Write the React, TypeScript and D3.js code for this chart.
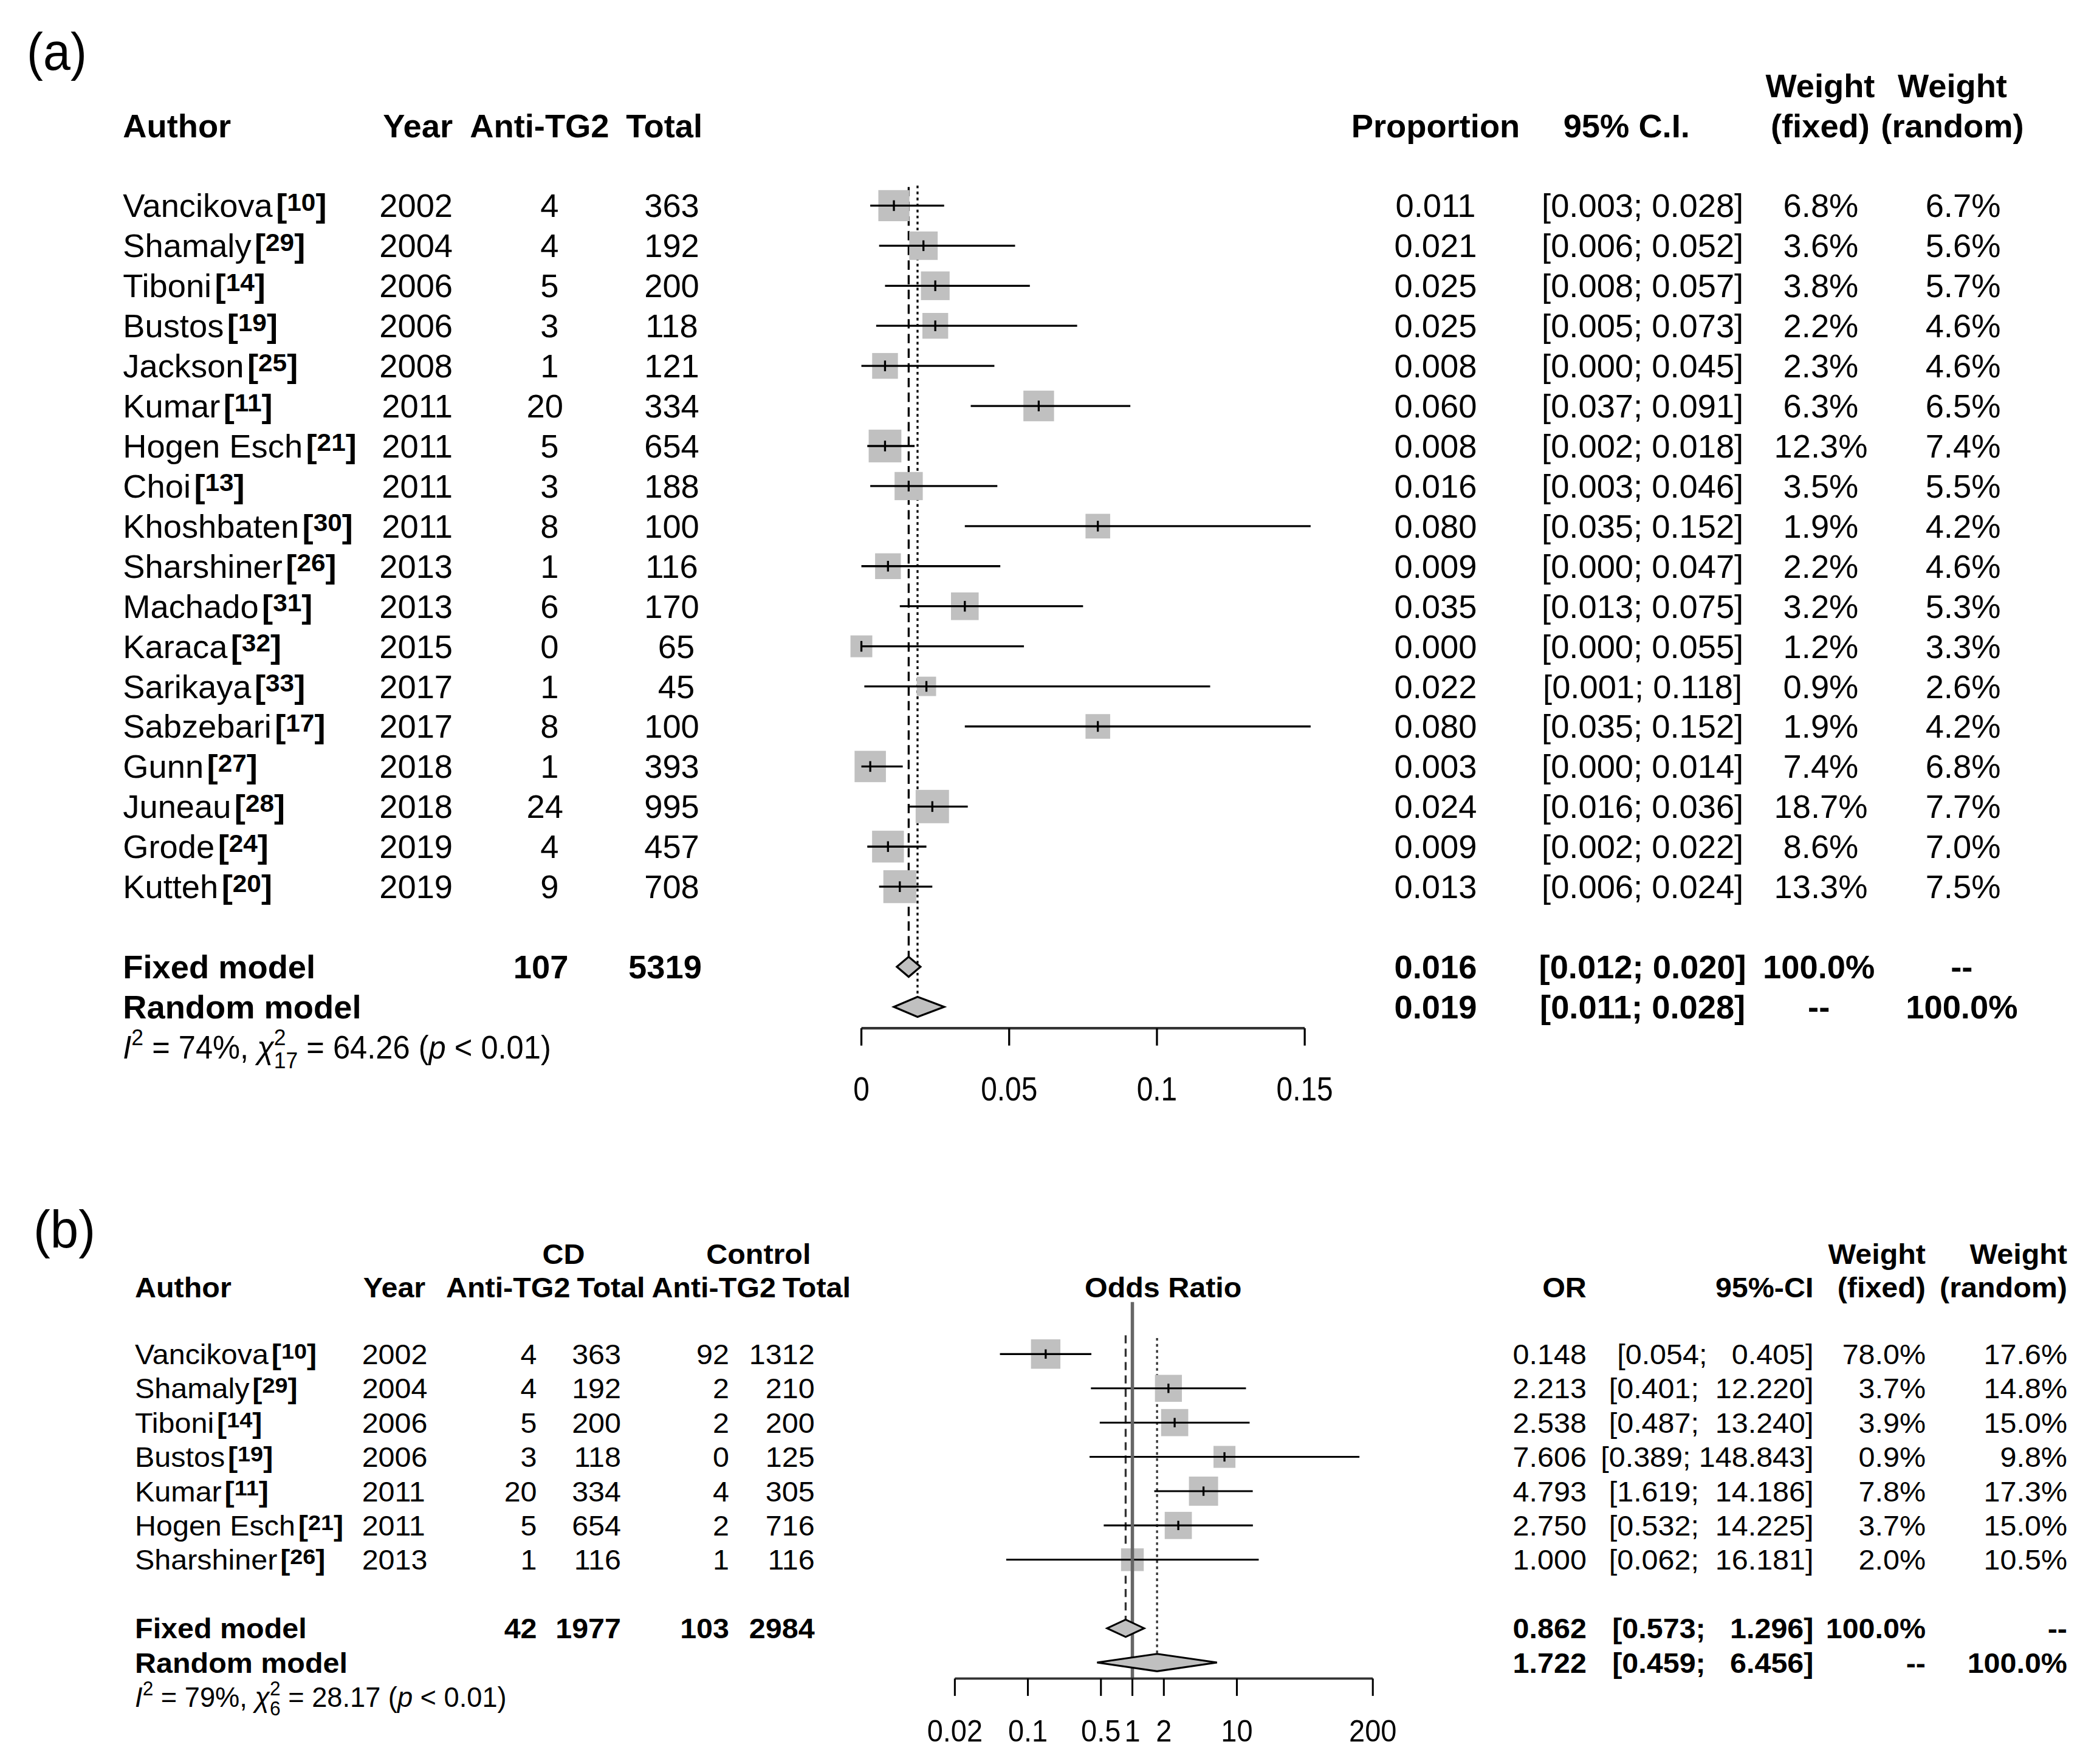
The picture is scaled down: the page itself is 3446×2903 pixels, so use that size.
import React from 'react';
import * as d3 from 'd3';

// ---------- Panel (a) data ----------
const authorsA = ['Vancikova','Shamaly','Tiboni','Bustos','Jackson','Kumar','Hogen Esch','Choi','Khoshbaten','Sharshiner','Machado','Karaca','Sarikaya','Sabzebari','Gunn','Juneau','Grode','Kutteh'];
const refsA = [10,29,14,19,25,11,21,13,30,26,31,32,33,17,27,28,24,20];
const yearsA = [2002,2004,2006,2006,2008,2011,2011,2011,2011,2013,2013,2015,2017,2017,2018,2018,2019,2019];
const eventsA = [4,4,5,3,1,20,5,3,8,1,6,0,1,8,1,24,4,9];
const totalsA = [363,192,200,118,121,334,654,188,100,116,170,65,45,100,393,995,457,708];
const propA = [0.011,0.021,0.025,0.025,0.008,0.060,0.008,0.016,0.080,0.009,0.035,0.000,0.022,0.080,0.003,0.024,0.009,0.013];
const lowerA = [0.003,0.006,0.008,0.005,0.000,0.037,0.002,0.003,0.035,0.000,0.013,0.000,0.001,0.035,0.000,0.016,0.002,0.006];
const upperA = [0.028,0.052,0.057,0.073,0.045,0.091,0.018,0.046,0.152,0.047,0.075,0.055,0.118,0.152,0.014,0.036,0.022,0.024];
const wFixedA = [6.8,3.6,3.8,2.2,2.3,6.3,12.3,3.5,1.9,2.2,3.2,1.2,0.9,1.9,7.4,18.7,8.6,13.3];
const wRandomA = [6.7,5.6,5.7,4.6,4.6,6.5,7.4,5.5,4.2,4.6,5.3,3.3,2.6,4.2,6.8,7.7,7.0,7.5];
const summaryA = { events: 107, total: 5319, fixed: [0.016, 0.012, 0.020], random: [0.019, 0.011, 0.028] };
const hetA = { i2: '74%', df: '17', q: '64.26', p: '0.01' };
const ticksA = [0, 0.05, 0.1, 0.15];

// ---------- Panel (b) data ----------
const authorsB = ['Vancikova','Shamaly','Tiboni','Bustos','Kumar','Hogen Esch','Sharshiner'];
const refsB = [10,29,14,19,11,21,26];
const yearsB = [2002,2004,2006,2006,2011,2011,2013];
const cdEventsB = [4,4,5,3,20,5,1];
const cdTotalsB = [363,192,200,118,334,654,116];
const ctrlEventsB = [92,2,2,0,4,2,1];
const ctrlTotalsB = [1312,210,200,125,305,716,116];
const orB = [0.148,2.213,2.538,7.606,4.793,2.750,1.000];
const lowerB = [0.054,0.401,0.487,0.389,1.619,0.532,0.062];
const upperB = [0.405,12.220,13.240,148.843,14.186,14.225,16.181];
const wFixedB = [78.0,3.7,3.9,0.9,7.8,3.7,2.0];
const wRandomB = [17.6,14.8,15.0,9.8,17.3,15.0,10.5];
const summaryB = { cdEvents: 42, cdTotal: 1977, ctrlEvents: 103, ctrlTotal: 2984, fixed: [0.862, 0.573, 1.296], random: [1.722, 0.459, 6.456] };
const hetB = { i2: '79%', df: '6', q: '28.17', p: '0.01' };
const ticksB = [0.02, 0.1, 0.5, 1, 2, 10, 200];

// ---------- layout ----------
const VW = 1568, VH = 1321;
const FA = 24, FB = 21, SXA = 1.03, SXB = 1.05;
const BOX = '#c0c0c0';

type TP = { x: number; c: number; size: number; anchor?: string; bold?: boolean; italic?: boolean; sx?: number; children?: any };
function T({ x, c, size, anchor = 'start', bold = false, italic = false, sx = 1, children }: TP) {
  const y = c + 0.36 * size;
  return (
    <text transform={`translate(${x},${y}) scale(${sx},1)`} textAnchor={anchor as any} fontSize={size}
      fontWeight={bold ? 'bold' : 'normal'} fontStyle={italic ? 'italic' : 'normal'} style={{ whiteSpace: 'pre' }} fill="#000">
      {children}
    </text>
  );
}

function Study({ x, c, size, sx, name, refNo }: any) {
  return (
    <T x={x} c={c} size={size} sx={sx}>
      {name}
      <tspan dx={size * 0.1} fontWeight="bold">[</tspan>
      <tspan fontWeight="bold" fontSize={size * 0.78} dy={-size * 0.2}>{refNo}</tspan>
      <tspan fontWeight="bold" dy={size * 0.2}>]</tspan>
    </T>
  );
}

function Het({ x, c, size, sx, h }: any) {
  const s2 = size * 0.7;
  return (
    <T x={x} c={c} size={size} sx={sx}>
      <tspan fontStyle="italic">I</tspan>
      <tspan fontSize={s2} dy={-size * 0.42}>2</tspan>
      <tspan dy={size * 0.42}>{` = ${h.i2}, `}</tspan>
      <tspan fontStyle="italic">χ</tspan>
      <tspan fontSize={s2} dy={-size * 0.42}>2</tspan>
      <tspan fontSize={s2} dx={-s2 * 0.556} dy={size * 0.72}>{h.df}</tspan>
      <tspan dy={-size * 0.3}>{` = ${h.q} (`}</tspan>
      <tspan fontStyle="italic">p</tspan>
      <tspan>{` < ${h.p})`}</tspan>
    </T>
  );
}

const diamond = (xl: number, xc: number, xu: number, y: number, h: number) =>
  `M${xl},${y}L${xc},${y - h}L${xu},${y}L${xc},${y + h}Z`;

function PanelA() {
  const x = d3.scaleLinear().domain([0, 0.15]).range([645, 977]);
  const row = d3.scaleLinear().domain([0, 1]).range([154, 184]);
  const boxSize = (w: number) => 9 * Math.sqrt(w);
  const yFixed = row(19), yRandom = row(20), yHet = row(21);
  const dh = 7.5;
  const axisY = 770;
  const S = { size: FA, sx: SXA };
  return (
    <g>
      <T x={20} c={38} size={40} sx={0.92}>(a)</T>
      {/* headers */}
      <T x={92} c={94} {...S} bold>Author</T>
      <T x={339} c={94} {...S} bold anchor="end">Year</T>
      <T x={404} c={94} {...S} bold anchor="middle">Anti-TG2</T>
      <T x={526} c={94} {...S} bold anchor="end">Total</T>
      <T x={1075} c={94} {...S} bold anchor="middle">Proportion</T>
      <T x={1218} c={94} {...S} bold anchor="middle">95% C.I.</T>
      <T x={1363} c={64} {...S} bold anchor="middle">Weight</T>
      <T x={1363} c={94} {...S} bold anchor="middle">(fixed)</T>
      <T x={1462} c={64} {...S} bold anchor="middle">Weight</T>
      <T x={1462} c={94} {...S} bold anchor="middle">(random)</T>

      {/* reference lines */}
      <line x1={x(summaryA.fixed[0])} x2={x(summaryA.fixed[0])} y1={row(0) - 14} y2={yFixed - dh} stroke="#000" strokeWidth={1.5} strokeDasharray="7,4" />
      <line x1={x(summaryA.random[0])} x2={x(summaryA.random[0])} y1={row(0) - 15} y2={yRandom - dh} stroke="#000" strokeWidth={1.5} strokeDasharray="2,2.5" />

      {authorsA.map((a, i) => {
        const c = row(i);
        const s = boxSize(wRandomA[i]);
        return (
          <g key={a + i}>
            <Study x={92} c={c} {...S} name={a} refNo={refsA[i]} />
            <T x={339} c={c} {...S} anchor="end">{String(yearsA[i])}</T>
            <T x={408} c={c} {...S} anchor="middle">{String(eventsA[i]).padStart(2)}</T>
            <T x={503} c={c} {...S} anchor="middle">{String(totalsA[i]).padStart(3)}</T>
            <rect x={x(propA[i]) - s / 2} y={c - s / 2} width={s} height={s} fill={BOX} />
            <line x1={x(lowerA[i])} x2={x(upperA[i])} y1={c} y2={c} stroke="#000" strokeWidth={1.5} />
            <line x1={x(propA[i])} x2={x(propA[i])} y1={c - 4} y2={c + 4} stroke="#000" strokeWidth={1.5} />
            <T x={1075} c={c} {...S} anchor="middle">{propA[i].toFixed(3)}</T>
            <T x={1230} c={c} {...S} anchor="middle">{`[${lowerA[i].toFixed(3)}; ${upperA[i].toFixed(3)}]`}</T>
            <T x={1363.5} c={c} {...S} anchor="middle">{`${wFixedA[i].toFixed(1)}%`}</T>
            <T x={1470} c={c} {...S} anchor="middle">{`${wRandomA[i].toFixed(1)}%`}</T>
          </g>
        );
      })}

      {/* summaries */}
      <T x={92} c={yFixed} {...S} bold>Fixed model</T>
      <T x={405} c={yFixed} {...S} bold anchor="middle">{String(summaryA.events)}</T>
      <T x={498} c={yFixed} {...S} bold anchor="middle">{String(summaryA.total)}</T>
      <path d={diamond(x(summaryA.fixed[1]), x(summaryA.fixed[0]), x(summaryA.fixed[2]), yFixed, dh)} fill={BOX} stroke="#000" strokeWidth={1.5} />
      <T x={1075} c={yFixed} {...S} bold anchor="middle">{summaryA.fixed[0].toFixed(3)}</T>
      <T x={1230} c={yFixed} {...S} bold anchor="middle">{`[${summaryA.fixed[1].toFixed(3)}; ${summaryA.fixed[2].toFixed(3)}]`}</T>
      <T x={1362} c={yFixed} {...S} bold anchor="middle">100.0%</T>
      <T x={1469} c={yFixed} {...S} bold anchor="middle">--</T>

      <T x={92} c={yRandom} {...S} bold>Random model</T>
      <path d={diamond(x(summaryA.random[1]), x(summaryA.random[0]), x(summaryA.random[2]), yRandom, dh)} fill={BOX} stroke="#000" strokeWidth={1.5} />
      <T x={1075} c={yRandom} {...S} bold anchor="middle">{summaryA.random[0].toFixed(3)}</T>
      <T x={1230} c={yRandom} {...S} bold anchor="middle">{`[${summaryA.random[1].toFixed(3)}; ${summaryA.random[2].toFixed(3)}]`}</T>
      <T x={1362} c={yRandom} {...S} bold anchor="middle">--</T>
      <T x={1469} c={yRandom} {...S} bold anchor="middle">100.0%</T>

      <Het x={92} c={yHet} size={FA} sx={0.96} h={hetA} />

      {/* axis */}
      <line x1={x(0)} x2={x(0.15)} y1={axisY} y2={axisY} stroke="#333" strokeWidth={2} />
      {ticksA.map(t => (
        <g key={t}>
          <line x1={x(t)} x2={x(t)} y1={axisY} y2={axisY + 13} stroke="#000" strokeWidth={1.5} />
          <T x={x(t)} c={815} size={25} sx={0.87} anchor="middle">{String(t)}</T>
        </g>
      ))}
    </g>
  );
}

function PanelB() {
  const x = d3.scaleLog().domain([0.02, 200]).range([715, 1028]);
  const row = d3.scaleLinear().domain([0, 1]).range([1014, 1039.67]);
  const boxSize = (w: number) => 5.25 * Math.sqrt(w);
  const yFixed = row(8), yRandom = row(9), yHet = row(10);
  const dh = 6.5;
  const axisY = 1257;
  const S = { size: FB, sx: SXB };
  const ci = (l: number, u: number) => `[${l.toFixed(3).padStart(5)}; ${u.toFixed(3).padStart(7)}]`;
  return (
    <g>
      <T x={25} c={920} size={40} sx={0.95}>(b)</T>
      <T x={422} c={939} {...S} bold anchor="middle">CD</T>
      <T x={568} c={939} {...S} bold anchor="middle">Control</T>
      <T x={101} c={964} {...S} bold>Author</T>
      <T x={272} c={964} {...S} bold>Year</T>
      <T x={427} c={964} {...S} bold anchor="end">Anti-TG2</T>
      <T x={483} c={964} {...S} bold anchor="end">Total</T>
      <T x={581} c={964} {...S} bold anchor="end">Anti-TG2</T>
      <T x={637} c={964} {...S} bold anchor="end">Total</T>
      <T x={871} c={964} {...S} bold anchor="middle">Odds Ratio</T>
      <T x={1188} c={964} {...S} bold anchor="end">OR</T>
      <T x={1358} c={964} {...S} bold anchor="end">95%-CI</T>
      <T x={1442} c={939} {...S} bold anchor="end">Weight</T>
      <T x={1442} c={964} {...S} bold anchor="end">(fixed)</T>
      <T x={1548} c={939} {...S} bold anchor="end">Weight</T>
      <T x={1548} c={964} {...S} bold anchor="end">(random)</T>

      <line x1={x(summaryB.fixed[0])} x2={x(summaryB.fixed[0])} y1={row(0) - 14} y2={yFixed - dh} stroke="#333" strokeWidth={1.5} strokeDasharray="6,4" />
      <line x1={x(summaryB.random[0])} x2={x(summaryB.random[0])} y1={row(0) - 12} y2={yRandom - dh} stroke="#333" strokeWidth={1.5} strokeDasharray="2,2.5" />

      {authorsB.map((a, i) => {
        const c = row(i);
        const s = boxSize(wRandomB[i]);
        return (
          <g key={a + i}>
            <Study x={101} c={c} {...S} name={a} refNo={refsB[i]} />
            <T x={271} c={c} {...S}>{String(yearsB[i])}</T>
            <T x={402} c={c} {...S} anchor="end">{String(cdEventsB[i])}</T>
            <T x={465} c={c} {...S} anchor="end">{String(cdTotalsB[i])}</T>
            <T x={546} c={c} {...S} anchor="end">{String(ctrlEventsB[i])}</T>
            <T x={610} c={c} {...S} anchor="end">{String(ctrlTotalsB[i])}</T>
            <rect x={x(orB[i]) - s / 2} y={c - s / 2} width={s} height={s} fill={BOX} />
            <line x1={x(lowerB[i])} x2={x(upperB[i])} y1={c} y2={c} stroke="#000" strokeWidth={1.4} />
            <line x1={x(orB[i])} x2={x(orB[i])} y1={c - 3.5} y2={c + 3.5} stroke="#000" strokeWidth={1.5} />
            <T x={1188} c={c} {...S} anchor="end">{orB[i].toFixed(3)}</T>
            <T x={1358} c={c} {...S} anchor="end">{ci(lowerB[i], upperB[i])}</T>
            <T x={1442} c={c} {...S} anchor="end">{`${wFixedB[i].toFixed(1)}%`}</T>
            <T x={1548} c={c} {...S} anchor="end">{`${wRandomB[i].toFixed(1)}%`}</T>
          </g>
        );
      })}

      <line x1={x(1)} x2={x(1)} y1={975} y2={axisY} stroke="#666" strokeWidth={2.5} />

      <T x={101} c={yFixed} {...S} bold>Fixed model</T>
      <T x={402} c={yFixed} {...S} bold anchor="end">{String(summaryB.cdEvents)}</T>
      <T x={465} c={yFixed} {...S} bold anchor="end">{String(summaryB.cdTotal)}</T>
      <T x={546} c={yFixed} {...S} bold anchor="end">{String(summaryB.ctrlEvents)}</T>
      <T x={610} c={yFixed} {...S} bold anchor="end">{String(summaryB.ctrlTotal)}</T>
      <path d={diamond(x(summaryB.fixed[1]), x(summaryB.fixed[0]), x(summaryB.fixed[2]), yFixed, dh)} fill={BOX} stroke="#000" strokeWidth={1.4} />
      <T x={1188} c={yFixed} {...S} bold anchor="end">{summaryB.fixed[0].toFixed(3)}</T>
      <T x={1358} c={yFixed} {...S} bold anchor="end">{ci(summaryB.fixed[1], summaryB.fixed[2])}</T>
      <T x={1442} c={yFixed} {...S} bold anchor="end">100.0%</T>
      <T x={1548} c={yFixed} {...S} bold anchor="end">--</T>

      <T x={101} c={yRandom} {...S} bold>Random model</T>
      <path d={diamond(x(summaryB.random[1]), x(summaryB.random[0]), x(summaryB.random[2]), yRandom, dh)} fill={BOX} stroke="#000" strokeWidth={1.4} />
      <T x={1188} c={yRandom} {...S} bold anchor="end">{summaryB.random[0].toFixed(3)}</T>
      <T x={1358} c={yRandom} {...S} bold anchor="end">{ci(summaryB.random[1], summaryB.random[2])}</T>
      <T x={1442} c={yRandom} {...S} bold anchor="end">--</T>
      <T x={1548} c={yRandom} {...S} bold anchor="end">100.0%</T>

      <Het x={101} c={yHet} size={FB} sx={0.98} h={hetB} />

      <line x1={x(0.02)} x2={x(200)} y1={axisY} y2={axisY} stroke="#333" strokeWidth={1.8} />
      {ticksB.map(t => (
        <g key={t}>
          <line x1={x(t)} x2={x(t)} y1={axisY} y2={axisY + 13} stroke="#000" strokeWidth={1.4} />
          <T x={x(t)} c={1296} size={22.5} sx={0.95} anchor="middle">{String(t)}</T>
        </g>
      ))}
    </g>
  );
}

export default function App() {
  return (
    <svg width={3446} height={2903} viewBox={`0 0 ${VW} ${VH}`} xmlns="http://www.w3.org/2000/svg"
      style={{ position: 'absolute', left: 0, top: 0, background: '#fff' }}
      fontFamily="'Liberation Sans', Arial, Helvetica, sans-serif">
      <rect x={0} y={0} width={VW} height={VH} fill="#fff" />
      <PanelA />
      <PanelB />
    </svg>
  );
}
